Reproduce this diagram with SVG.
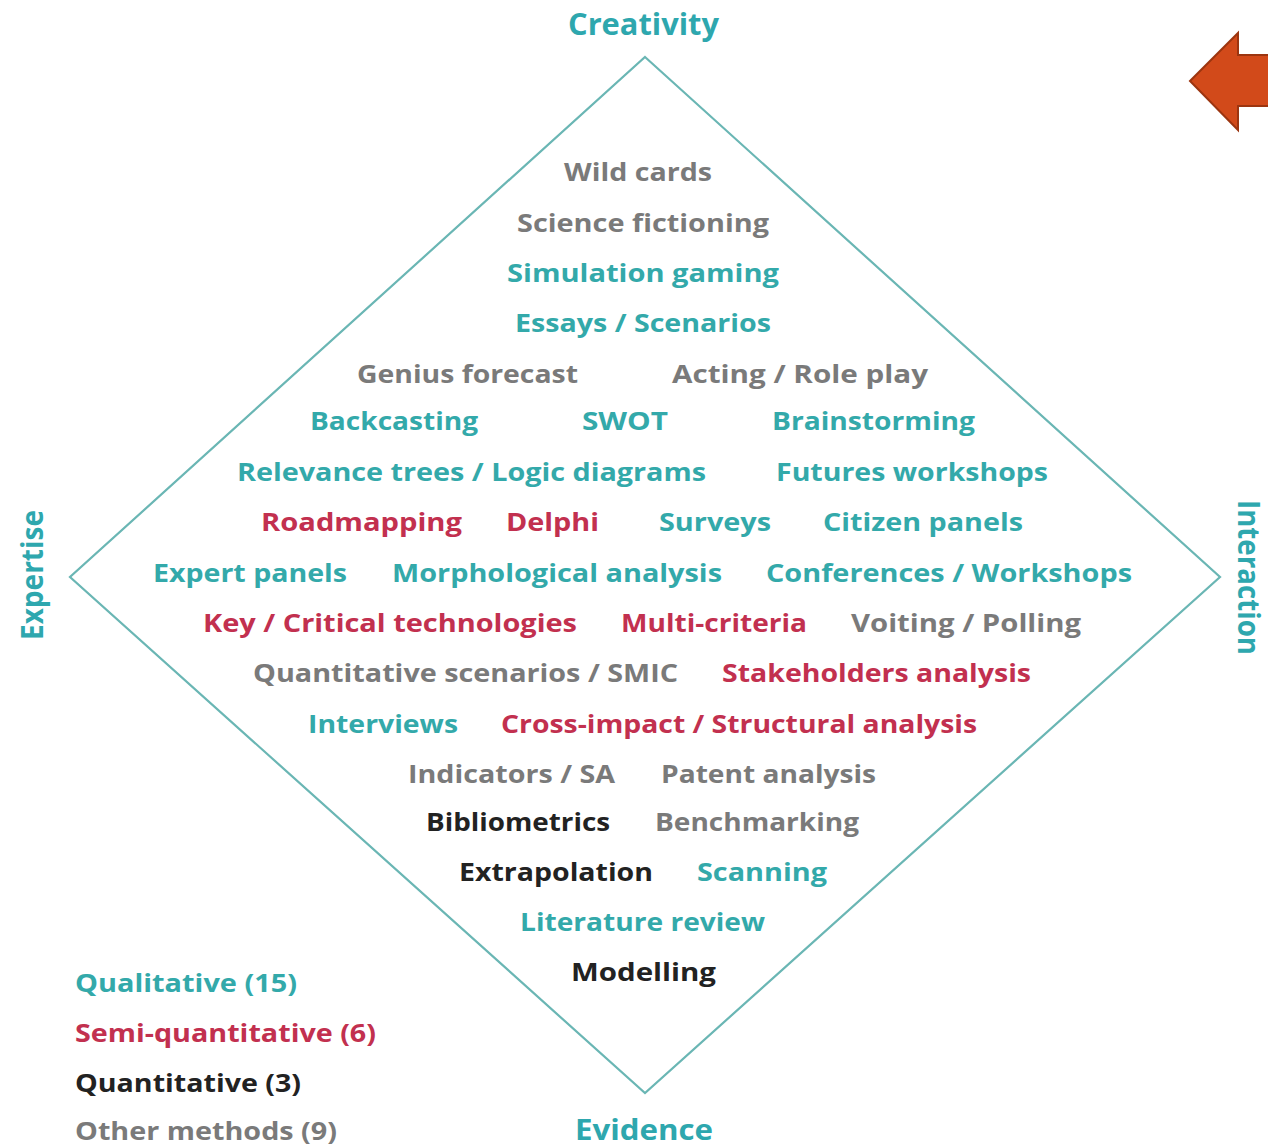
<svg xmlns="http://www.w3.org/2000/svg" width="1268" height="1148" viewBox="0 0 1268 1148">
<style>
text{font-family:"Open Sans","Liberation Sans",sans-serif;font-weight:700;font-size:25px}
.t{fill:#33a9aa}.r{fill:#c2304f}.g{fill:#7a7a7a}.k{fill:#222}
.ax{font-size:30px;fill:#2ea7ae}
.lg{font-size:25px}
</style>
<rect width="1268" height="1148" fill="#fff"/>
<g id="connectors">
<polygon id="diamond" points="645,57 1220,577 645,1093 70,577" fill="none" stroke="#6ab6b4" stroke-width="2.2"/>
</g>
<g id="arrow"><polygon points="1190,81 1238,33 1238,55 1270,55 1270,106 1238,106 1238,130" fill="#d24a1a" stroke="#9c3510" stroke-width="2"/></g>
<g id="axes">
<text id="creativity" class="ax" x="568" y="35" textLength="151" lengthAdjust="spacingAndGlyphs">Creativity</text>
<text id="evidence" class="ax" x="575" y="1140" style="font-size:28px" textLength="138" lengthAdjust="spacingAndGlyphs">Evidence</text>
<text id="expertise" class="ax" transform="translate(43,640) rotate(-90)" x="0" y="0" textLength="130" lengthAdjust="spacingAndGlyphs">Expertise</text>
<text id="interaction" class="ax" transform="translate(1238,500) rotate(90)" x="0" y="0" textLength="155" lengthAdjust="spacingAndGlyphs">Interaction</text>
</g>
<g id="methods">
<text class="g" x="564" y="181" textLength="148" lengthAdjust="spacingAndGlyphs">Wild cards</text>
<text class="g" x="517" y="232" textLength="252" lengthAdjust="spacingAndGlyphs">Science fictioning</text>
<text class="t" x="507" y="282" textLength="272" lengthAdjust="spacingAndGlyphs">Simulation gaming</text>
<text class="t" x="515" y="332" textLength="256" lengthAdjust="spacingAndGlyphs">Essays / Scenarios</text>
<text class="g" x="357" y="383" textLength="221" lengthAdjust="spacingAndGlyphs">Genius forecast</text>
<text class="g" x="672" y="383" textLength="256" lengthAdjust="spacingAndGlyphs">Acting / Role play</text>
<text class="t" x="310" y="430" textLength="168" lengthAdjust="spacingAndGlyphs">Backcasting</text>
<text class="t" x="582" y="430" textLength="86" lengthAdjust="spacingAndGlyphs">SWOT</text>
<text class="t" x="772" y="430" textLength="203" lengthAdjust="spacingAndGlyphs">Brainstorming</text>
<text class="t" x="237" y="481" textLength="469" lengthAdjust="spacingAndGlyphs">Relevance trees / Logic diagrams</text>
<text class="t" x="776" y="481" textLength="272" lengthAdjust="spacingAndGlyphs">Futures workshops</text>
<text class="r" x="261" y="531" textLength="201" lengthAdjust="spacingAndGlyphs">Roadmapping</text>
<text class="r" x="506" y="531" textLength="93" lengthAdjust="spacingAndGlyphs">Delphi</text>
<text class="t" x="659" y="531" textLength="112" lengthAdjust="spacingAndGlyphs">Surveys</text>
<text class="t" x="823" y="531" textLength="200" lengthAdjust="spacingAndGlyphs">Citizen panels</text>
<text class="t" x="153" y="582" textLength="194" lengthAdjust="spacingAndGlyphs">Expert panels</text>
<text class="t" x="392" y="582" textLength="330" lengthAdjust="spacingAndGlyphs">Morphological analysis</text>
<text class="t" x="766" y="582" textLength="366" lengthAdjust="spacingAndGlyphs">Conferences / Workshops</text>
<text class="r" x="203" y="632" textLength="374" lengthAdjust="spacingAndGlyphs">Key / Critical technologies</text>
<text class="r" x="621" y="632" textLength="186" lengthAdjust="spacingAndGlyphs">Multi-criteria</text>
<text class="g" x="851" y="632" textLength="230" lengthAdjust="spacingAndGlyphs">Voiting / Polling</text>
<text class="g" x="253" y="682" textLength="425" lengthAdjust="spacingAndGlyphs">Quantitative scenarios / SMIC</text>
<text class="r" x="722" y="682" textLength="309" lengthAdjust="spacingAndGlyphs">Stakeholders analysis</text>
<text class="t" x="308" y="733" textLength="150" lengthAdjust="spacingAndGlyphs">Interviews</text>
<text class="r" x="501" y="733" textLength="476" lengthAdjust="spacingAndGlyphs">Cross-impact / Structural analysis</text>
<text class="g" x="408" y="783" textLength="207" lengthAdjust="spacingAndGlyphs">Indicators / SA</text>
<text class="g" x="661" y="783" textLength="215" lengthAdjust="spacingAndGlyphs">Patent analysis</text>
<text class="k" x="426" y="831" textLength="184" lengthAdjust="spacingAndGlyphs">Bibliometrics</text>
<text class="g" x="655" y="831" textLength="204" lengthAdjust="spacingAndGlyphs">Benchmarking</text>
<text class="k" x="459" y="881" textLength="194" lengthAdjust="spacingAndGlyphs">Extrapolation</text>
<text class="t" x="697" y="881" textLength="130" lengthAdjust="spacingAndGlyphs">Scanning</text>
<text class="t" x="520" y="931" textLength="245" lengthAdjust="spacingAndGlyphs">Literature review</text>
<text class="k" x="571" y="981" textLength="145" lengthAdjust="spacingAndGlyphs">Modelling</text>
</g>
<g id="legend">
<text class="t lg" x="75" y="992" textLength="222" lengthAdjust="spacingAndGlyphs">Qualitative (15)</text>
<text class="r lg" x="75" y="1042" textLength="301" lengthAdjust="spacingAndGlyphs">Semi-quantitative (6)</text>
<text class="k lg" x="75" y="1092" textLength="226" lengthAdjust="spacingAndGlyphs">Quantitative (3)</text>
<text class="g lg" x="75" y="1140" textLength="262" lengthAdjust="spacingAndGlyphs">Other methods (9)</text>
</g>
</svg>
